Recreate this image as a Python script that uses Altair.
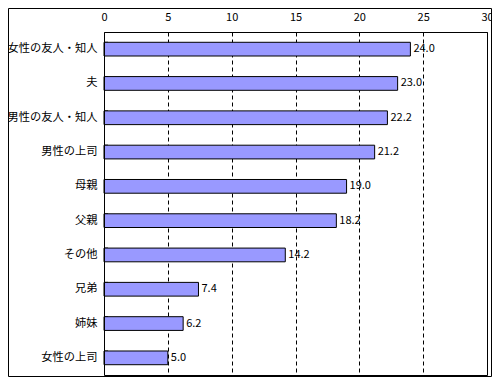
import altair as alt
import pandas as pd

categories = ["女性の友人・知人", "夫", "男性の友人・知人", "男性の上司", "母親", "父親", "その他", "兄弟", "姉妹", "女性の上司"]
values = [24.0, 23.0, 22.2, 21.2, 19.0, 18.2, 14.2, 7.4, 6.2, 5.0]
x_ticks = [0, 5, 10, 15, 20, 25, 30]

df = pd.DataFrame({"cat": categories, "val": values})
df["label"] = df["val"].map(lambda v: f"{v:.1f}")

FONT = "Noto Sans CJK JP"
PL, PT, PR, PB = 96, 24, 5, 2
TW, TH = 484, 369
W, H = TW - PL - PR, TH - PT - PB

xscale = alt.Scale(domain=[0, 30], nice=False)
yscale = alt.Scale(domain=categories, paddingInner=0.6, paddingOuter=0.3)

base = alt.Chart(df)

bars = base.mark_bar(color="#9999FF", stroke="black", strokeWidth=1).encode(
    x=alt.X("val:Q", scale=xscale,
            axis=alt.Axis(orient="top", values=x_ticks, title=None, grid=True,
                          gridDash=[4, 3], gridColor="black", gridOpacity=1,
                          tickSize=0, domain=False, labelPadding=10,
                          labelFlush=False,
                          labelFont=FONT, labelFontSize=11, labelColor="black")),
    y=alt.Y("cat:N", scale=yscale, sort=categories,
            axis=alt.Axis(title=None, ticks=False, domain=False, labelPadding=7,
                          labelFont=FONT, labelFontSize=11.25, labelColor="black")),
)

text = base.mark_text(align="left", baseline="middle", dx=3, font=FONT,
                      fontSize=11, color="black").encode(
    x=alt.X("val:Q", scale=xscale),
    y=alt.Y("cat:N", scale=yscale, sort=categories),
    text="label:N",
)

ticks = base.mark_rule(color="black", strokeWidth=1).encode(
    y=alt.Y("cat:N", scale=yscale, sort=categories, bandPosition=0),
    x=alt.value(0),
    x2=alt.value(4),
)

one = pd.DataFrame({"k": [0]})
plot_border = alt.Chart(one).mark_rect(fill="transparent", stroke="black", strokeWidth=1, clip=False).encode(
    x=alt.value(0.5), x2=alt.value(W + 0.5),
    y=alt.value(0.5), y2=alt.value(H + 0.5),
)
frame = alt.Chart(one).mark_rect(fill="transparent", stroke="black", strokeWidth=1, clip=False).encode(
    x=alt.value(-PL + 0.5), x2=alt.value(W + PR - 0.5),
    y=alt.value(-PT + 0.5), y2=alt.value(H + PB - 0.5),
)

chart = alt.layer(ticks, bars, text, plot_border, frame).properties(
    width=W, height=H,
    autosize=alt.AutoSizeParams(type="none"),
    padding={"left": PL, "top": PT, "right": PR, "bottom": PB},
).configure_view(stroke=None).configure(background="white")

chart.save("out.html", embed_options={"renderer": "svg", "actions": False})
